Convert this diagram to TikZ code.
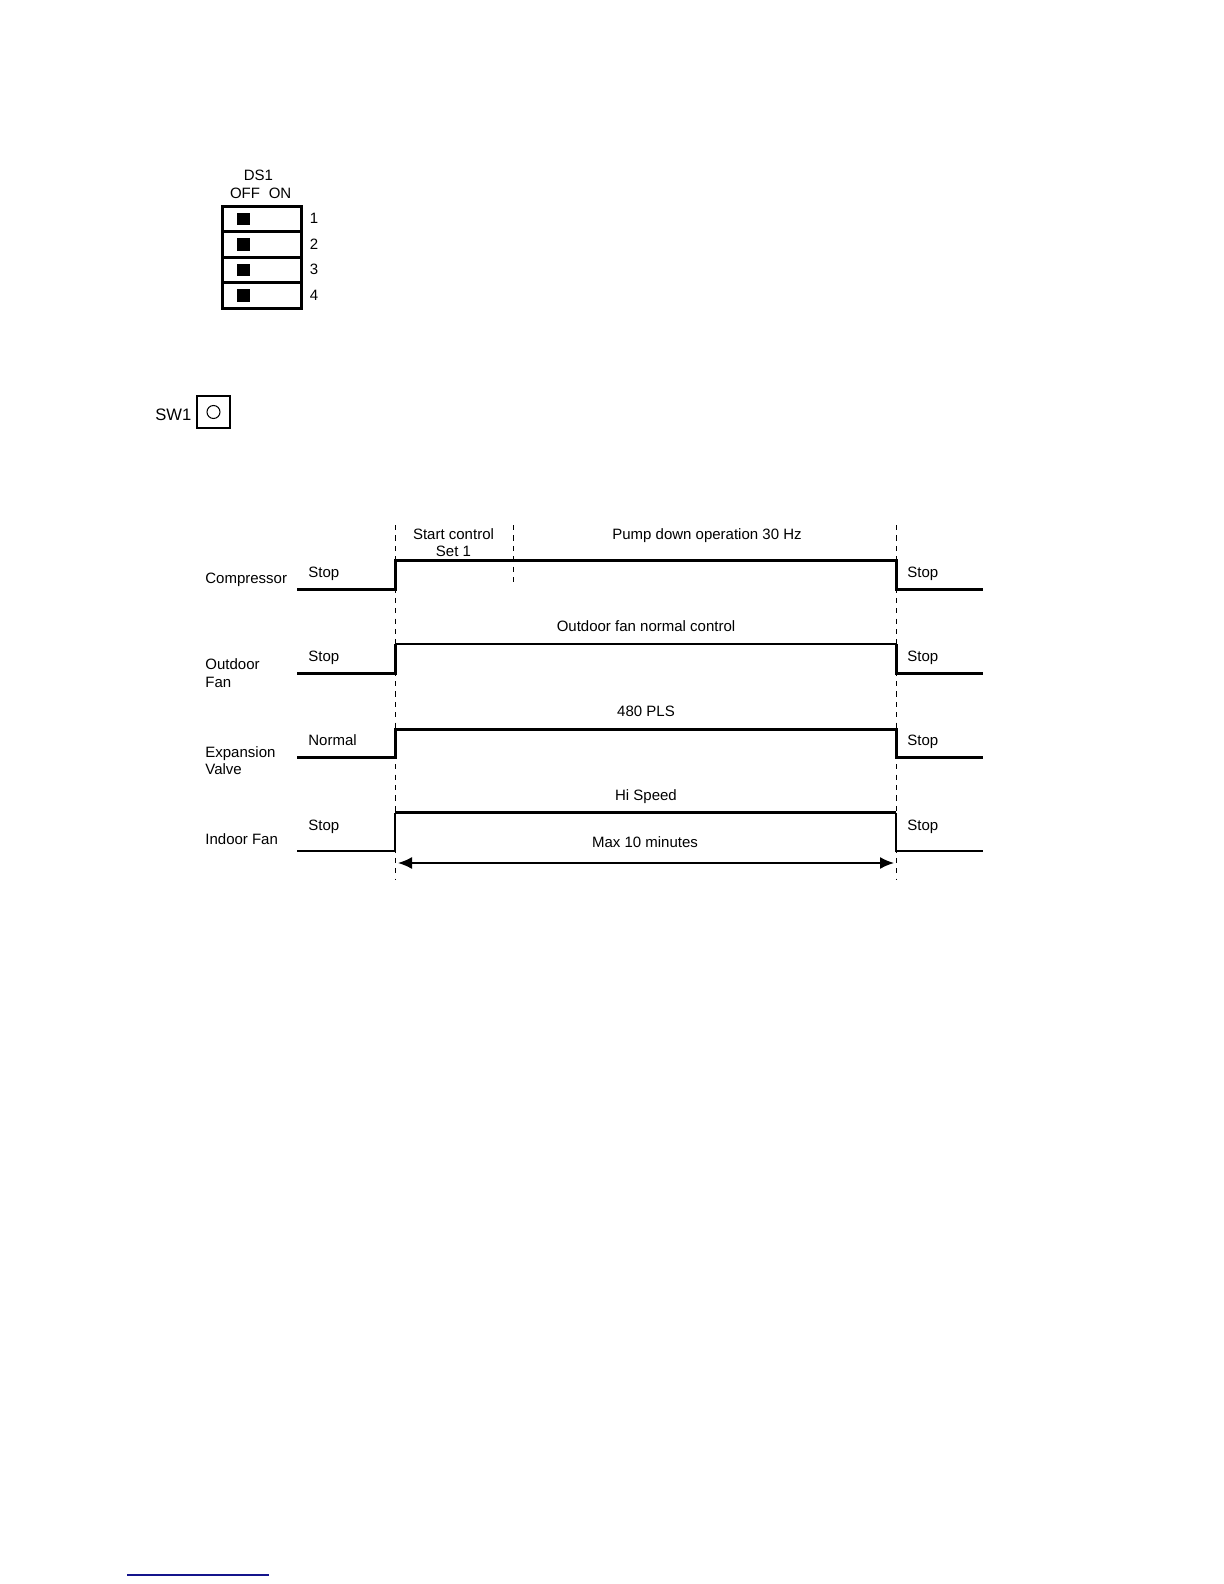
\documentclass[tikz,border=0pt]{standalone}
\usepackage{fontspec}
\setmainfont{Liberation Sans}
\usetikzlibrary{arrows.meta}
\definecolor{linkblue}{RGB}{20,20,140}
\tikzset{%
  wave/.style     = {line width=1.5pt, line join=miter},%
  thinwave/.style = {line width=1.05pt, line join=miter},%
  guide/.style    = {line width=0.5pt, dash pattern=on 2.6pt off 2.6pt},%
  span/.style     = {line width=0.8pt, {Latex[length=7pt,width=6pt]}-{Latex[length=7pt,width=6pt]}},%
  dsrow/.style    = {draw, line width=1.5pt, minimum width=39.5pt, minimum height=12.8pt, inner sep=0pt},%
  knob/.style     = {fill=black, minimum size=6.3pt, inner sep=0pt},%
  swbox/.style    = {draw, line width=0.7pt, minimum width=16.5pt, minimum height=16pt, inner sep=0pt},%
  swknob/.style   = {circle, draw, line width=0.5pt, minimum size=6.5pt, inner sep=0pt}%
}

\begin{document}
\begin{tikzpicture}[x=0.5pt,y=-0.5pt,every node/.style={font=\fontsize{7.5}{8.7}\selectfont, inner sep=0pt}]
	\useasboundingbox (0,0) rectangle (1224,1584);
	% dip switch DS1
	\node[anchor=base] (ds) at (258.5,180.5) {DS1};
	\node[anchor=base] (off) at (245,198.5) {OFF};
	\node[anchor=base] (on) at (280,198.5) {ON};
	\node[dsrow] (row1) at (261.5,218.8) {};
	\node[dsrow] (row2) at (261.5,244.4) {};
	\node[dsrow] (row3) at (261.5,270) {};
	\node[dsrow] (row4) at (261.5,295.6) {};
	\node[knob] (k1) at (243.5,218.8) {};
	\node[knob] (k2) at (243.5,244.4) {};
	\node[knob] (k3) at (243.5,270) {};
	\node[knob] (k4) at (243.5,295.6) {};
	\node[anchor=base] (n1) at (314,223.5) {1};
	\node[anchor=base] (n2) at (314,249) {2};
	\node[anchor=base] (n3) at (314,274.5) {3};
	\node[anchor=base] (n4) at (314,300) {4};
	% push switch SW1
	\node[anchor=base, font=\fontsize{8.3}{10}\selectfont] (sw) at (173.3,420.5) {SW1};
	\node[swbox] (swb) at (213.5,412) {};
	\node[swknob] (swk) at (swb.center) {};
	% time marks
	\coordinate (t1) at (395,525);
	\coordinate (b1) at (395,879);
	\coordinate (t2) at (513.5,525);
	\coordinate (b2) at (513.5,583);
	\coordinate (t3) at (896,525);
	\coordinate (b3) at (896,879);
	\draw[guide] (t1) -- (b1);
	\draw[guide] (t2) -- (b2);
	\draw[guide] (t3) -- (b3);
	% compressor
	\coordinate (cs) at (297,589);
	\coordinate (ch) at (395,560);
	\coordinate (cf) at (896,560);
	\coordinate (ce) at (983,589);
	\draw[wave] (cs) -| (ch) -- (cf) |- (ce);
	\node[anchor=base west] (cmp) at (205,583) {Compressor};
	\node[anchor=base west] (cmp1) at (308,577) {Stop};
	\node[anchor=base west] (cmp2) at (907,577) {Stop};
	\node (cmp3) at (453.5,542.5) [align=center] {Start control\\Set 1};
	\node[anchor=base] (cmp4) at (707,539) {Pump down operation 30 Hz};
	% outdoor fan
	\coordinate (os) at (297,673.3);
	\coordinate (oh) at (395,644.3);
	\coordinate (of) at (896,644.3);
	\coordinate (oe) at (983,673.3);
	\draw[wave] (os) -- (os -| oh) -- (oh);
	\draw[thinwave] (oh) -- (of);
	\draw[wave] (of) |- (oe);
	\node[anchor=west, align=left] (ofan) at (205,673) {Outdoor\\Fan};
	\node[anchor=base west] (ofan1) at (308,661) {Stop};
	\node[anchor=base west] (ofan2) at (907,661) {Stop};
	\node[anchor=base] (ofan3) at (646,631.5) {Outdoor fan normal control};
	% expansion valve
	\coordinate (es) at (297,757.7);
	\coordinate (eh) at (395,729);
	\coordinate (ef) at (896,729);
	\coordinate (ee) at (983,757.7);
	\draw[wave] (es) -| (eh) -- (ef) |- (ee);
	\node[anchor=west, align=left] (ev) at (205,760.5) {Expansion\\Valve};
	\node[anchor=base west] (ev1) at (308,745) {Normal};
	\node[anchor=base west] (ev2) at (907,745) {Stop};
	\node[anchor=base] (ev3) at (646,716) {480 PLS};
	% indoor fan
	\coordinate (is) at (297,850.7);
	\coordinate (ih) at (395,812.7);
	\coordinate (if) at (896,812.7);
	\coordinate (ie) at (983,850.7);
	\draw[thinwave] (is) -| (ih);
	\draw[wave] (ih) -- (if);
	\draw[thinwave] (if) |- (ie);
	\node[anchor=base west] (ifan) at (205,844) {Indoor Fan};
	\node[anchor=base west] (ifan1) at (308,830) {Stop};
	\node[anchor=base west] (ifan2) at (907,830) {Stop};
	\node[anchor=base] (ifan3) at (646,800.5) {Hi Speed};
	% duration
	\coordinate (d1) at (398,863);
	\coordinate (d2) at (894,863);
	\draw[span] (d1) -- (d2);
	\node[anchor=base] (dur) at (645,847) {Max 10 minutes};
	% footer rule
	\coordinate (f1) at (127,1575);
	\coordinate (f2) at (269,1575);
	\draw[linkblue, line width=0.8pt] (f1) -- (f2);
\end{tikzpicture}
\end{document}
